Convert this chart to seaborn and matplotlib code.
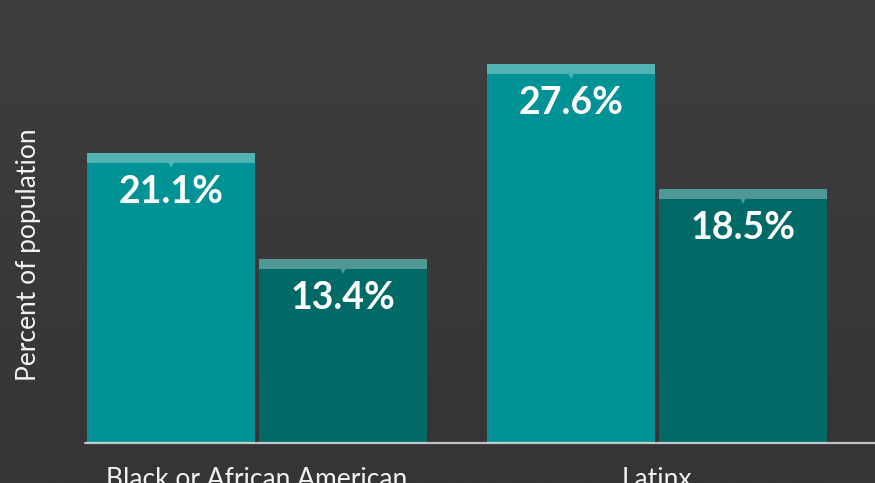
import numpy as np
import pandas as pd
import seaborn as sns
import matplotlib.pyplot as plt
from matplotlib.patches import Rectangle

# data
groups = ["Black or African American", "Latinx"]
series = ["Series 1", "Series 2"]
series_1 = [21.1, 27.6]
series_2 = [13.4, 18.5]

bar_colors = ["#009294", "#016a67"]
cap_colors = {"#009294": "#50b4b5", "#016a67": "#4f9895"}

df = pd.DataFrame({
    "group": groups * 2,
    "series": [series[0]] * 2 + [series[1]] * 2,
    "value": series_1 + series_2,
})

sns.set_style("white")
plt.rcParams["font.family"] = ["Lato", "DejaVu Sans"]

fig = plt.figure(figsize=(8.75, 4.83), dpi=100)

# dark gradient background
bg = fig.add_axes([0, 0, 1, 1], zorder=-1)
grad = np.linspace(0, 1, 256).reshape(-1, 1)
bg.imshow(grad, aspect="auto", extent=[0, 1, 0, 1],
          cmap=sns.blend_palette(["#3e3d3f", "#363436"], as_cmap=True))
bg.set_axis_off()

ax = fig.add_axes([85 / 875, 40 / 483, 790 / 875, 443 / 483])
ax.set_facecolor("none")
sns.barplot(data=df, x="group", y="value", hue="series", palette=bar_colors,
            width=0.86, gap=0.024, saturation=1, legend=False, ax=ax, linewidth=0)

ax.set_xlim(-0.43, 1.545)
ax.set_ylim(0, 32.24)

cap = 0.73
for p in list(ax.patches):
    x, w, h = p.get_x(), p.get_width(), p.get_height()
    col = cap_colors[plt.matplotlib.colors.to_hex(p.get_facecolor())]
    ax.add_patch(Rectangle((x, h - cap), w, cap, color=col, lw=0, zorder=3))
    ax.plot(x + w / 2, h - cap, marker="v", color=col, markersize=7,
            markeredgewidth=0, zorder=3)
    ax.annotate(f"{h:.1f}%", (x + w / 2, h), xytext=(0, -28),
                textcoords="offset points", ha="center", va="center",
                color="white", fontsize=27, fontweight="bold", zorder=4)

ax.axhline(0, color="white", alpha=0.7, lw=1.6, zorder=5, clip_on=False)

for s in ax.spines.values():
    s.set_visible(False)
ax.set_yticks([])
ax.tick_params(axis="x", length=0, pad=17, labelsize=19, labelcolor="#f2f2f2")
ax.set_xlabel("")
ax.set_ylabel("Percent of population", fontsize=19, color="#f2f2f2")
ax.yaxis.set_label_coords(-(85 - 41) / 790, 0.424)

fig.savefig("out.png", dpi=100)
